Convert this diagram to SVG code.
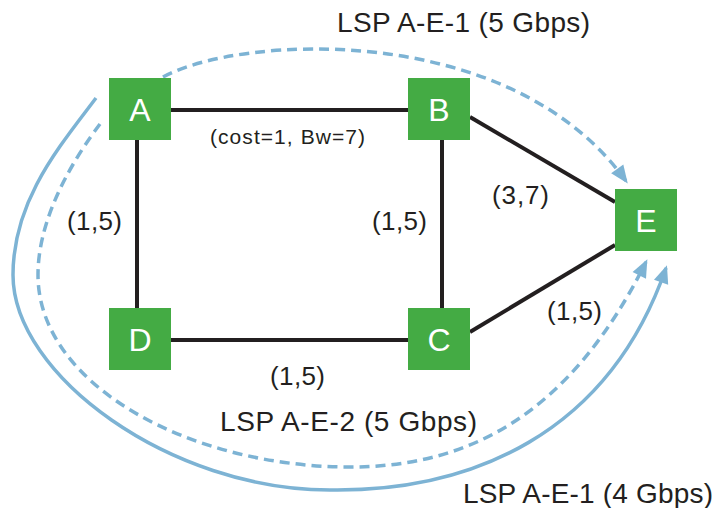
<svg xmlns="http://www.w3.org/2000/svg" width="720" height="508" viewBox="0 0 720 508">
<style>
.node rect{fill:#44AB44}
.node text{fill:#FFFFFF;font-family:"Liberation Sans",Arial,sans-serif;font-size:32px;text-anchor:middle}
.link{stroke:#231F20;stroke-width:4;fill:none}
.lsp{stroke:#7DB3D4;stroke-width:3.5;fill:none}
.dash{stroke-dasharray:10 6}
.lbl{fill:#231F20;font-family:"Liberation Sans",Arial,sans-serif;font-size:26px}
.big{font-size:28px}
.small{font-size:21px}
</style>
<defs>
<marker id="arr" markerUnits="userSpaceOnUse" markerWidth="20" markerHeight="18" viewBox="0 -9 18 18" refX="15" refY="0" orient="auto">
<path d="M0,-7.5 L18,0 L0,7.5 Z" fill="#7DB3D4"/>
</marker>
</defs>
<g id="connectors">
<line class="link" x1="171" y1="110" x2="408" y2="110"/>
<line class="link" x1="137" y1="140" x2="137" y2="308"/>
<line class="link" x1="442" y1="140" x2="442" y2="308"/>
<line class="link" x1="171" y1="340" x2="408" y2="340"/>
<line class="link" x1="470" y1="117" x2="615" y2="202"/>
<line class="link" x1="470" y1="332" x2="615" y2="245"/>
<path class="lsp dash" d="M163,77 C240,35 510,20 626,181" marker-end="url(#arr)"/>
<path class="lsp" d="M96,98 C60,146 13,200 13,275 C13,375 170,490 330,490 C470,492 608,435 666,268" marker-end="url(#arr)"/>
<path class="lsp dash" d="M100,124 C76,156 38,215 38,275 C38,385 190,467 350,467 C470,467 570,414 646,262" marker-end="url(#arr)"/>
</g>
<g id="A" class="node"><rect x="109" y="78" width="62" height="62"/><text x="140" y="121">A</text></g>
<g id="B" class="node"><rect x="408" y="78" width="62" height="62"/><text x="439" y="121">B</text></g>
<g id="C" class="node"><rect x="408" y="308" width="62" height="62"/><text x="439" y="351">C</text></g>
<g id="D" class="node"><rect x="109" y="308" width="62" height="62"/><text x="140" y="351">D</text></g>
<g id="E" class="node"><rect x="615" y="189" width="62" height="62"/><text x="646" y="232">E</text></g>
<g id="labels">
<text class="lbl big" x="337" y="32" textLength="253" lengthAdjust="spacing">LSP A-E-1 (5 Gbps)</text>
<text class="lbl small" x="210" y="144" textLength="155" lengthAdjust="spacing">(cost=1, Bw=7)</text>
<text class="lbl" x="67" y="230" textLength="55" lengthAdjust="spacing">(1,5)</text>
<text class="lbl" x="372" y="230" textLength="55" lengthAdjust="spacing">(1,5)</text>
<text class="lbl" x="492" y="204" textLength="57" lengthAdjust="spacing">(3,7)</text>
<text class="lbl" x="547" y="320" textLength="55" lengthAdjust="spacing">(1,5)</text>
<text class="lbl" x="270" y="385" textLength="55" lengthAdjust="spacing">(1,5)</text>
<text class="lbl big" x="220" y="431" textLength="257" lengthAdjust="spacing">LSP A-E-2 (5 Gbps)</text>
<text class="lbl big" x="463" y="503" textLength="250" lengthAdjust="spacing">LSP A-E-1 (4 Gbps)</text>
</g>
</svg>
